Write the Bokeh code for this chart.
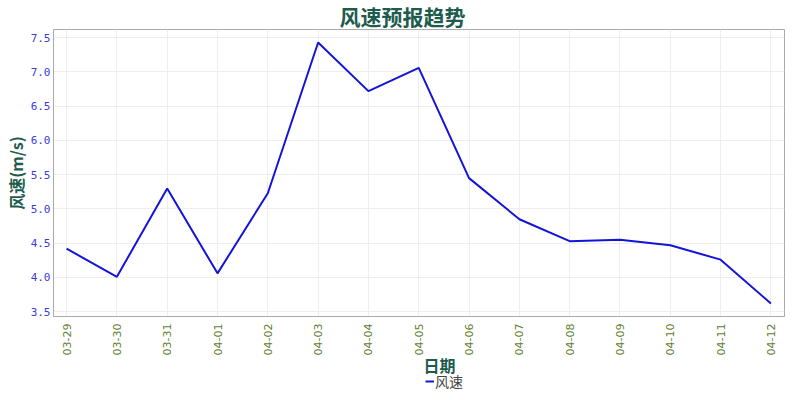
from bokeh.plotting import figure
from bokeh.layouts import column
from bokeh.models import Range1d, FixedTicker, Legend, LegendItem, Title, ColumnDataSource, Label
from bokeh.embed import file_html
from bokeh.resources import INLINE

dates = ["03-29", "03-30", "03-31", "04-01", "04-02", "04-03", "04-04", "04-05",
         "04-06", "04-07", "04-08", "04-09", "04-10", "04-11", "04-12"]
wind = [4.42, 4.01, 5.30, 4.06, 5.23, 7.43, 6.72, 7.06, 5.45, 4.85, 4.53, 4.55, 4.47, 4.26, 3.62]
y_ticks = [3.5, 4.0, 4.5, 5.0, 5.5, 6.0, 6.5, 7.0, 7.5]

xs = list(range(len(dates)))
src = ColumnDataSource(dict(x=xs, y=wind))

CJK = "Noto Sans CJK SC"
GREEN = "#1d5c4d"
LINE = "#1414d8"
W = 786
H_MAIN = 358
H_STRIP = 36
OVERLAP = 3

p = figure(width=W, height=H_MAIN, output_backend="svg", toolbar_location=None,
           x_range=Range1d(-0.26, 14.27), y_range=Range1d(3.43, 7.62),
           min_border_left=40, min_border_right=2, min_border_top=0, min_border_bottom=0)

p.title = Title(text="风速预报趋势", align="left", text_font=CJK, text_font_size="21px",
                text_font_style="bold", text_color=GREEN, offset=286, standoff=-3)

r = p.line("x", "y", source=src, line_color=LINE, line_width=2)

p.xaxis.ticker = FixedTicker(ticks=xs)
p.xaxis.major_label_overrides = {i: d for i, d in enumerate(dates)}
p.xaxis.major_label_orientation = 1.5708
p.xaxis.major_label_text_color = "#5f7f2f"
p.xaxis.major_label_text_font = "DejaVu Sans"
p.xaxis.major_label_text_font_size = "11px"
p.xaxis.major_label_standoff = 7

p.yaxis.ticker = FixedTicker(ticks=y_ticks)
p.yaxis.major_label_overrides = {t: f"{t:.1f}" for t in y_ticks}
p.yaxis.major_label_text_color = "#3b3bdc"
p.yaxis.major_label_text_font = "DejaVu Sans Mono"
p.yaxis.major_label_text_font_size = "11px"
p.yaxis.major_label_standoff = 3
p.yaxis.axis_label = "风速(m/s)"
p.yaxis.axis_label_text_font = CJK
p.yaxis.axis_label_text_font_style = "bold"
p.yaxis.axis_label_text_font_size = "16px"
p.yaxis.axis_label_text_color = GREEN
p.yaxis.axis_label_standoff = 0

for ax in (p.xaxis, p.yaxis):
    ax.axis_line_color = "#aaaaaa"
    ax.major_tick_line_color = None
    ax.major_tick_out = 0
    ax.major_tick_in = 0
    ax.minor_tick_line_color = None

p.outline_line_color = "#aaaaaa"
p.xgrid.grid_line_color = "#eeeeee"
p.ygrid.grid_line_color = "#eeeeee"
p.background_fill_color = "white"
p.border_fill_color = "white"

# Strip below the chart: x-axis title and legend (transparent, slightly overlapping)
lg = figure(width=W, height=H_STRIP, output_backend="svg", toolbar_location=None,
            x_axis_type=None, y_axis_type=None,
            x_range=Range1d(0, W), y_range=Range1d(0, H_STRIP),
            min_border_left=0, min_border_right=0, min_border_top=0, min_border_bottom=0,
            margin=(-OVERLAP, 0, 0, 0))
lg.outline_line_color = None
lg.xgrid.grid_line_color = None
lg.ygrid.grid_line_color = None
lg.background_fill_color = None
lg.border_fill_color = None
lg.add_layout(Label(x=415, y=H_STRIP - 9, text="日期", text_align="center",
                    text_baseline="middle", text_font=CJK, text_font_size="16px",
                    text_font_style="bold", text_color=GREEN))
lr = lg.line(x=[-10, -5], y=[-10, -10], line_color=LINE, line_width=2)
legend = Legend(items=[LegendItem(label="风速", renderers=[lr])], location=(372, 0),
                orientation="horizontal", label_text_font=CJK, label_text_font_size="14px",
                label_text_color="#444444", border_line_color=None, background_fill_alpha=0,
                glyph_width=9, glyph_height=18, label_height=18, label_standoff=1,
                padding=0, margin=0)
lg.add_layout(legend)

layout = column(p, lg, spacing=0)
open("out.html", "w").write(file_html(layout, INLINE))
